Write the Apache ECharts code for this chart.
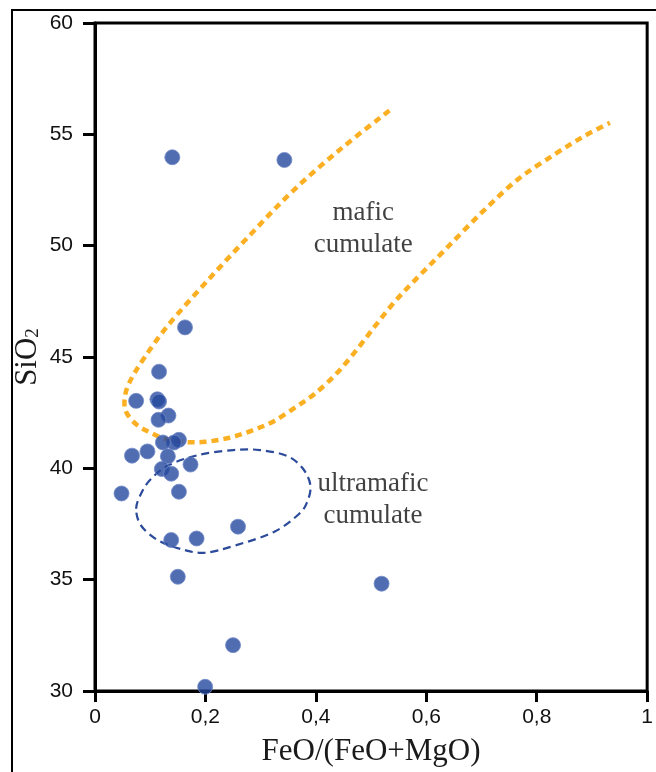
<!DOCTYPE html>
<html>
<head>
<meta charset="utf-8">
<script src="https://cdn.jsdelivr.net/npm/echarts@6/dist/echarts.min.js"></script>
<style>
  html, body { margin: 0; padding: 0; background: #fff; }
  #chart { width: 656px; height: 772px; }
</style>
</head>
<body>
<div id="chart"></div>
<script>
// Samples: FeO/(FeO+MgO) ratio vs SiO2 (wt%)
const feoRatio = [0.140, 0.343, 0.163, 0.116, 0.0745, 0.113, 0.116, 0.133, 0.115, 0.152,
                  0.143, 0.123, 0.095, 0.067, 0.132, 0.173, 0.121, 0.138, 0.048, 0.152,
                  0.259, 0.184, 0.138, 0.150, 0.519, 0.250, 0.1995];
const sio2 = [53.97, 53.85, 46.33, 44.34, 43.03, 43.10, 43.00, 42.37, 42.18, 41.28,
              41.16, 41.16, 40.76, 40.57, 40.54, 40.17, 39.97, 39.76, 38.87, 38.95,
              37.38, 36.85, 36.78, 35.13, 34.82, 32.06, 30.19];

// Mafic cumulate field boundary (open curve, traced vertices)
const maficX = [0.5332, 0.4468, 0.3605, 0.2842, 0.2086, 0.1340, 0.0894, 0.0626, 0.0536, 0.0567,
                0.0745, 0.0983, 0.1282, 0.1639, 0.1996, 0.2413, 0.2829, 0.3248, 0.3664, 0.3991,
                0.4379, 0.4736, 0.5063, 0.5403, 0.5778, 0.6345, 0.7001, 0.7650, 0.8311, 0.8847, 0.9324];
const maficY = [56.07, 54.38, 52.51, 50.57, 48.56, 46.47, 44.97, 43.87, 43.11, 42.52,
                41.98, 41.63, 41.31, 41.18, 41.19, 41.36, 41.68, 42.13, 42.80, 43.37,
                44.27, 45.31, 46.36, 47.41, 48.41, 49.83, 51.48, 52.96, 54.08, 54.90, 55.52];

// Ultramafic cumulate field boundary (closed loop, traced vertices)
const ultraX = [0.0745, 0.0840, 0.1013, 0.1340, 0.1877, 0.2502, 0.2985, 0.3485, 0.3771, 0.3902,
                0.3843, 0.3694, 0.3248, 0.2533, 0.1996, 0.1609, 0.1162, 0.0840];
const ultraY = [38.18, 38.89, 39.52, 40.15, 40.60, 40.82, 40.82, 40.55, 39.97, 39.22,
                38.49, 37.95, 37.15, 36.53, 36.21, 36.34, 36.74, 37.41];

// Field labels
const fieldNames = ['mafic\ncumulate', 'ultramafic\ncumulate'];
const fieldX = [0.486, 0.5035];
const fieldY = [50.74, 38.58];

const xTicks = { min: 0, max: 1, interval: 0.2 };
const yTicks = { min: 30, max: 60, interval: 5 };

const zip = (a, b) => a.map((v, i) => [v, b[i]]);

// Catmull-Rom spline through pixel points, emitted as cubic Bezier path data
function splinePath(pts, closed) {
  const n = pts.length;
  const at = i => closed ? pts[(i + n) % n] : pts[Math.max(0, Math.min(n - 1, i))];
  let d = 'M' + pts[0][0] + ' ' + pts[0][1];
  const segs = closed ? n : n - 1;
  for (let i = 0; i < segs; i++) {
    const p0 = at(i - 1), p1 = at(i), p2 = at(i + 1), p3 = at(i + 2);
    const c1 = [p1[0] + (p2[0] - p0[0]) / 6, p1[1] + (p2[1] - p0[1]) / 6];
    const c2 = [p2[0] - (p3[0] - p1[0]) / 6, p2[1] - (p3[1] - p1[1]) / 6];
    d += ' C' + c1[0] + ' ' + c1[1] + ' ' + c2[0] + ' ' + c2[1] + ' ' + p2[0] + ' ' + p2[1];
  }
  if (closed) d += ' Z';
  return d;
}

function curveSeries(xs, ys, closed, style) {
  return {
    type: 'custom', silent: true, z: 1,
    data: zip(xs, ys),
    encode: { x: 0, y: 1 },
    renderItem: (params, api) => {
      if (params.dataIndex !== 0) return null;
      const pts = xs.map((x, i) => api.coord([x, ys[i]]));
      return {
        type: 'path',
        shape: { pathData: splinePath(pts, closed) },
        style: Object.assign({ fill: 'none' }, style)
      };
    }
  };
}

const chart = echarts.init(document.getElementById('chart'), null, { renderer: 'canvas' });

const tickFont = { color: '#111', fontFamily: 'Liberation Sans, Arial, sans-serif', fontSize: 21 };
const serif = 'Liberation Serif, Times New Roman, serif';

chart.setOption({
  animation: false,
  backgroundColor: '#fff',
  graphic: [{
    type: 'rect',
    shape: { x: 12, y: 10, width: 700, height: 820 },
    style: { fill: 'none', stroke: '#000', lineWidth: 2 },
    silent: true, z: -1
  }],
  grid: {
    left: 95, top: 23, right: 1.5, bottom: 79.5,
    show: true, borderColor: '#000', borderWidth: 3, backgroundColor: 'transparent'
  },
  xAxis: {
    type: 'value', min: xTicks.min, max: xTicks.max, interval: xTicks.interval,
    name: 'FeO/(FeO+MgO)', nameLocation: 'middle', nameGap: 45,
    nameTextStyle: { fontFamily: serif, fontSize: 31, color: '#1a1a1a' },
    axisLine: { show: true, onZero: false, lineStyle: { color: '#000', width: 3 } },
    axisTick: { show: true, inside: false, length: 11, lineStyle: { color: '#000', width: 3 } },
    axisLabel: Object.assign({ margin: 16, formatter: v => String(v).replace('.', ',') }, tickFont),
    splitLine: { show: false }
  },
  yAxis: {
    type: 'value', min: yTicks.min, max: yTicks.max, interval: yTicks.interval,
    name: '{a|SiO}{b|2}', nameLocation: 'middle', nameGap: 52, nameRotate: 90,
    nameMoveOverlap: false,
    nameTextStyle: {
      rich: {
        a: { fontFamily: serif, fontSize: 31, color: '#1a1a1a' },
        b: { fontFamily: serif, fontSize: 19, color: '#1a1a1a', padding: [12, 0, 0, 0] }
      }
    },
    axisLine: { show: true, onZero: false, lineStyle: { color: '#000', width: 3 } },
    axisTick: { show: true, inside: false, length: 12, lineStyle: { color: '#000', width: 3 } },
    axisLabel: Object.assign({ margin: 22 }, tickFont),
    splitLine: { show: false }
  },
  series: [
    curveSeries(maficX, maficY, false, { stroke: '#FBB024', lineWidth: 4.5, lineDash: [7, 5], lineCap: 'butt' }),
    curveSeries(ultraX, ultraY, true, { stroke: '#2B4A9A', lineWidth: 2.2, lineDash: [8, 5], lineCap: 'butt' }),
    {
      type: 'scatter', data: zip(feoRatio, sio2), symbolSize: 15,
      itemStyle: { color: '#26489D', borderColor: '#7089C8', borderWidth: 1 }, z: 3
    },
    {
      type: 'scatter', silent: true, symbolSize: 1,
      itemStyle: { color: 'transparent' },
      data: fieldNames.map((n, i) => ({ value: [fieldX[i], fieldY[i]], name: n })),
      label: {
        show: true, position: 'inside', formatter: p => p.name,
        fontFamily: serif, fontSize: 27, lineHeight: 32, color: '#111', align: 'center'
      }, z: 2
    }
  ]
});
</script>
</body>
</html>
